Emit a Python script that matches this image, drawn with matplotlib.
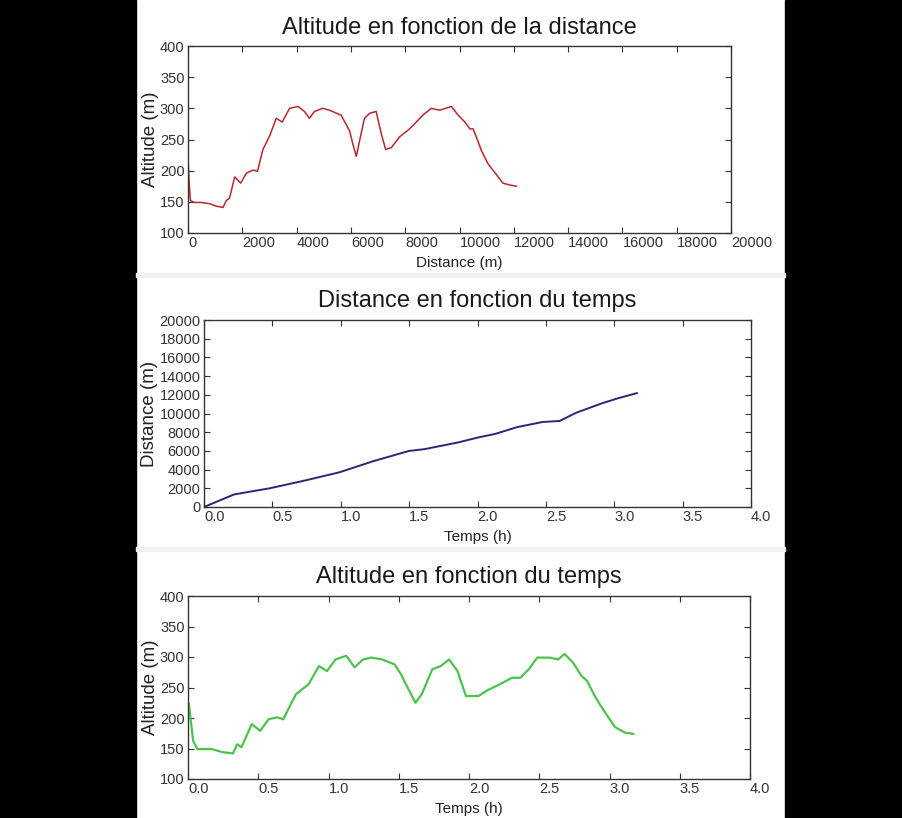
import numpy as np
import matplotlib
matplotlib.use("Agg")
import matplotlib.pyplot as plt
from matplotlib.patches import Rectangle

plt.rcParams['font.family'] = ['Liberation Sans', 'DejaVu Sans']

# altitude vs distance (panel 1)
dist_m = [0, 40, 90, 250, 490, 800, 1040, 1290, 1410, 1530, 1720, 1940, 2150, 2390,
          2560, 2760, 3010, 3250, 3470, 3740, 4050, 4290, 4470, 4660, 4960, 5210,
          5640, 5950, 6070, 6200, 6320, 6500, 6690, 6930, 7120, 7280, 7490, 7790,
          8160, 8410, 8650, 8960, 9270, 9700, 9950, 10200, 10380, 10500, 10620,
          10810, 11050, 11300, 11600, 11850, 12100]
alt_dist = [221, 182, 152, 149, 149, 147, 143, 141, 152, 156, 190, 180, 196, 201,
            199, 234, 256, 284, 278, 300, 303, 295, 284, 295, 300, 297,
            289, 264, 243, 223, 248, 284, 292, 295, 259, 234, 237, 254,
            267, 278, 289, 300, 297, 303, 289, 278, 267, 267, 254,
            232, 211, 197, 180, 177, 175]

# distance vs time (panel 2)
t_dist = [0.0, 0.22, 0.48, 0.74, 0.99, 1.24, 1.50, 1.61, 1.86, 2.01, 2.13, 2.29,
          2.475, 2.60, 2.72, 2.91, 3.03, 3.165]
dist_t = [0, 1345, 2000, 2840, 3710, 4910, 6000, 6180, 6910, 7455, 7820, 8545,
          9090, 9200, 10070, 11090, 11640, 12180]

# altitude vs time (panel 3)
t_alt = [0.006, 0.015, 0.036, 0.066, 0.125, 0.17, 0.245, 0.32, 0.35, 0.38, 0.454,
         0.514, 0.574, 0.633, 0.678, 0.768, 0.857, 0.932, 0.99, 1.05, 1.126, 1.186,
         1.245, 1.305, 1.38, 1.47, 1.515, 1.574, 1.619, 1.664, 1.739, 1.798, 1.858,
         1.918, 1.978, 2.067, 2.127, 2.217, 2.306, 2.366, 2.426, 2.486, 2.575, 2.635,
         2.68, 2.74, 2.80, 2.84, 2.90, 2.96, 3.04, 3.11, 3.17]
alt_t = [223, 206, 163, 149, 149, 149, 144, 142, 157, 152, 190,
         179, 198, 201, 198, 239, 255, 285, 277, 296, 302, 283,
         296, 299, 296, 288, 272, 245, 225, 239, 280, 285, 296,
         277, 236, 236, 245, 255, 266, 266, 280, 299, 299, 296,
         305, 291, 269, 261, 234, 212, 185, 176, 174]

W, H = 902, 818
fig = plt.figure(figsize=(W / 100, H / 100), dpi=100)
fig.patch.set_facecolor('white')

# black side borders and grey separators of the screenshot
fig.add_artist(Rectangle((0, 0), 136 / W, 1, transform=fig.transFigure, color='black', zorder=0))
fig.add_artist(Rectangle((785 / W, 0), 1, 1, transform=fig.transFigure, color='black', zorder=0))
for yb in [273, 547]:
    fig.add_artist(Rectangle((136 / W, 1 - (yb + 4) / H), (785 - 136) / W, 4 / H,
                             transform=fig.transFigure, color='#f1f1f1', zorder=0))


def make_axes(x0, x1, y0, y1):
    return fig.add_axes([x0 / W, 1 - y1 / H, (x1 - x0) / W, (y1 - y0) / H])


def style(ax, title, xlabel, ylabel):
    ax.set_title(title, fontsize=17, pad=9, color='#1a1a1a')
    ax.set_xlabel(xlabel, fontsize=11, labelpad=4, color='#222222')
    ax.set_ylabel(ylabel, fontsize=13.5, labelpad=1, color='#222222')
    ax.tick_params(direction='in', length=4, width=0.8, top=True, right=True,
                   labelsize=10.5, colors='#333333', pad=2.5)
    for s in ax.spines.values():
        s.set_color('#333333')
        s.set_linewidth(1.0)
    for lab in ax.get_xticklabels():
        lab.set_ha('left')


ax1 = make_axes(188, 731, 46, 233)
ax1.plot(dist_m, alt_dist, color='#b8282e', lw=1.1)
ax1.set_xlim(0, 20000)
ax1.set_ylim(100, 400)
ax1.set_xticks(np.arange(0, 20001, 2000))
ax1.set_yticks(np.arange(100, 401, 50))
style(ax1, "Altitude en fonction de la distance", "Distance (m)", "Altitude (m)")

ax2 = make_axes(204, 751, 320, 507)
ax2.plot(t_dist, dist_t, color='#282878', lw=1.4)
ax2.set_xlim(0, 4)
ax2.set_ylim(0, 20000)
ax2.set_xticks(np.arange(0, 4.01, 0.5))
ax2.set_xticklabels([f"{v:.1f}" for v in np.arange(0, 4.01, 0.5)])
ax2.set_yticks(np.arange(0, 20001, 2000))
style(ax2, "Distance en fonction du temps", "Temps (h)", "Distance (m)")

ax3 = make_axes(188, 750, 596, 779)
ax3.plot(t_alt, alt_t, color='#4cc34c', lw=1.6)
ax3.set_xlim(0, 4)
ax3.set_ylim(100, 400)
ax3.set_xticks(np.arange(0, 4.01, 0.5))
ax3.set_xticklabels([f"{v:.1f}" for v in np.arange(0, 4.01, 0.5)])
ax3.set_yticks(np.arange(100, 401, 50))
style(ax3, "Altitude en fonction du temps", "Temps (h)", "Altitude (m)")

fig.savefig("out.png", dpi=100)
